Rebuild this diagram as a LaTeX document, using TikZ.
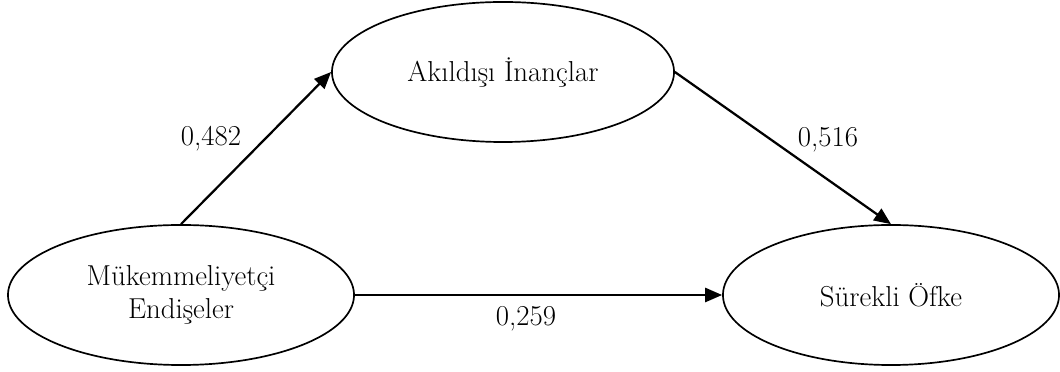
\documentclass[tikz,border=0pt]{standalone}
\usepackage{tikz}
\usetikzlibrary{shapes.geometric, arrows.meta}

\begin{document}
\begin{tikzpicture}[
            x=0.025cm, y=-0.025cm,
            latent/.style={ellipse, draw, line width=1.2pt, minimum height=3.5cm, inner sep=0pt, align=center, font=\fontsize{20.5}{23}\selectfont},
            coef/.style={font=\fontsize{20.5}{23}\selectfont},
            arrow/.style={line width=1.6pt, -{Triangle[length=12pt, width=10pt]}}
        ]
            \useasboundingbox (0,0) rectangle (1060,372);
            \node[latent, minimum width=8.65cm] (endise) at (181,295) {Mükemmeliyetçi\\Endişeler};
            \node[latent, minimum width=8.55cm] (inanc) at (503,72) {Akıldışı İnançlar};
            \node[latent, minimum width=8.4cm] (ofke) at (891,295) {Sürekli Öfke};

            \node[coef] (c1) at (211,139) {0,482};
            \node[coef] (c2) at (828,140) {0,516};
            \node[coef] (c3) at (526,319) {0,259};

            \draw[arrow] (endise.north) -- (inanc.west);
            \draw[arrow] (inanc.east) -- (ofke.north);
            \draw[arrow] (endise.east) -- (ofke.west);
        \end{tikzpicture}
\end{document}
